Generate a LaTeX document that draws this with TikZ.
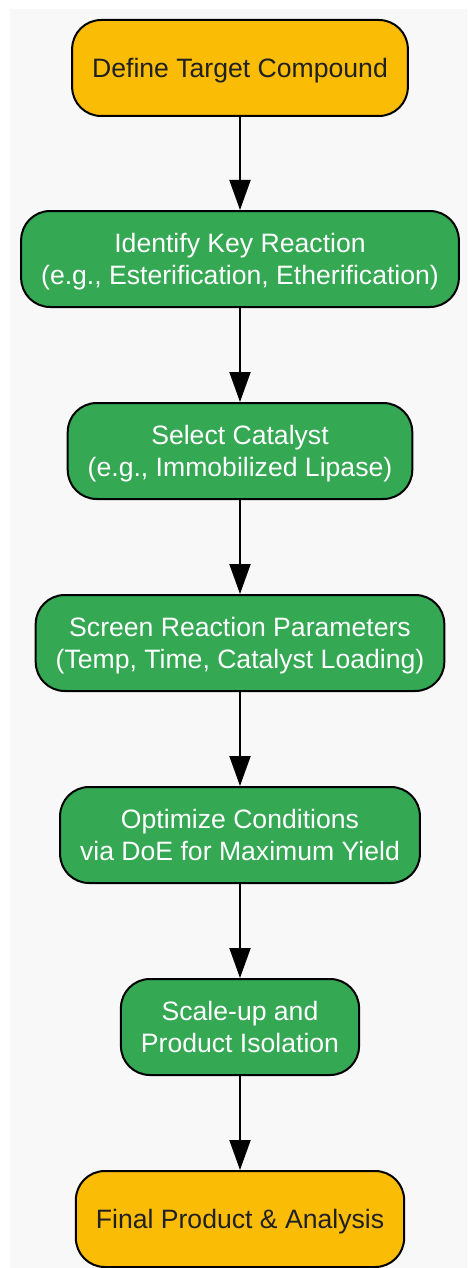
\documentclass[tikz,border=0pt]{standalone}
\usepackage{fontspec}
\setmainfont{Liberation Sans}
\usetikzlibrary{arrows.meta}
\definecolor{stepyellow}{HTML}{FBBC05}
\definecolor{stepgreen}{HTML}{34A853}
\definecolor{darktext}{HTML}{202124}
\definecolor{bggray}{HTML}{F8F8F8}

\begin{document}
\begin{tikzpicture}[x=1pt, y=-1pt,
  every node/.style={draw=black, line width=2pt, rounded corners=29pt, minimum height=96pt, inner xsep=20pt, text depth=0pt, align=center, font=\fontsize{26.6}{32}\selectfont},
  endbox/.style={fill=stepyellow, text=darktext},
  workbox/.style={fill=stepgreen, text=white},
  flow/.style={-{Triangle[length=30pt, width=21pt]}, line width=2pt}]
\useasboundingbox (0,0) rectangle (467,1268);
\fill[bggray] (10,9) rectangle (467,1268);

\node[endbox] (target) at (240,68) {Define Target Compound};
\node[workbox] (reaction) at (240,259) {Identify Key Reaction\\(e.g., Esterification, Etherification)};
\node[workbox] (catalyst) at (240,451) {Select Catalyst\\(e.g., Immobilized Lipase)};
\node[workbox] (screen) at (240,643) {Screen Reaction Parameters\\(Temp, Time, Catalyst Loading)};
\node[workbox] (optimize) at (240,835) {Optimize Conditions\\via DoE for Maximum Yield};
\node[workbox] (scaleup) at (240,1027) {Scale-up and\\Product Isolation};
\node[endbox] (final) at (240,1219) {Final Product \& Analysis};

\draw[flow] (target) -- (reaction);
\draw[flow] (reaction) -- (catalyst);
\draw[flow] (catalyst) -- (screen);
\draw[flow] (screen) -- (optimize);
\draw[flow] (optimize) -- (scaleup);
\draw[flow] (scaleup) -- (final);
\end{tikzpicture}
\end{document}
